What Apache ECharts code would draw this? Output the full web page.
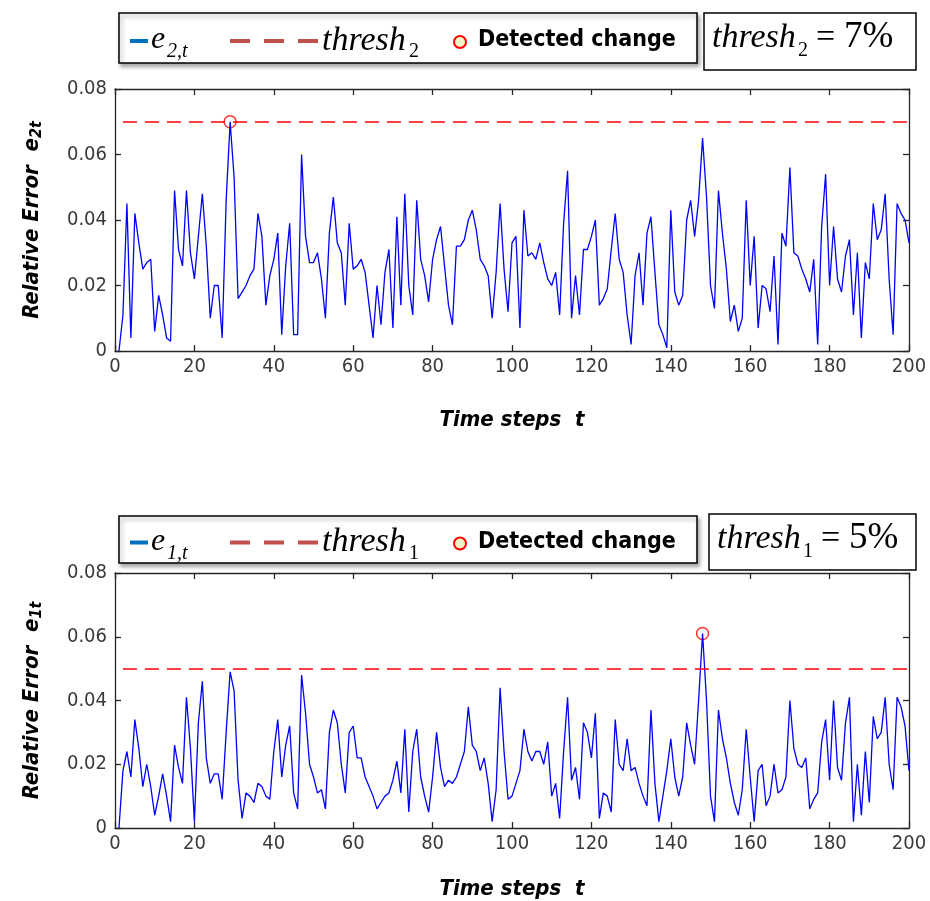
<!DOCTYPE html>
<html><head><meta charset="utf-8">
<script src="https://cdn.jsdelivr.net/npm/echarts@6/dist/echarts.min.js"></script>
<style>html,body{margin:0;padding:0;background:#fff}#c{width:930px;height:901px}</style>
</head><body><div id="c"></div>
<script>
// Relative error e_{2,t} (top panel), time steps 1..200
const e2 = [
0.000,0.011,0.045,0.004,0.042,0.033,0.025,0.027,0.028,0.006,
0.017,0.011,0.004,0.003,0.049,0.031,0.026,0.049,0.030,0.022,
0.035,0.048,0.032,0.010,0.020,0.020,0.004,0.046,0.070,0.053,
0.016,0.018,0.020,0.023,0.025,0.042,0.035,0.014,0.023,0.028,
0.036,0.005,0.026,0.039,0.005,0.005,0.060,0.035,0.027,0.027,
0.030,0.022,0.010,0.036,0.047,0.033,0.030,0.014,0.039,0.025,
0.026,0.028,0.024,0.014,0.004,0.020,0.008,0.024,0.031,0.007,
0.041,0.014,0.048,0.020,0.011,0.046,0.028,0.023,0.015,0.028,
0.034,0.038,0.026,0.014,0.008,0.032,0.032,0.034,0.040,0.043,
0.037,0.028,0.026,0.023,0.010,0.024,0.045,0.025,0.012,0.033,
0.035,0.007,0.043,0.029,0.030,0.028,0.033,0.027,0.022,0.020,
0.024,0.011,0.039,0.055,0.010,0.023,0.011,0.031,0.031,0.035,
0.040,0.014,0.016,0.019,0.031,0.042,0.028,0.024,0.011,0.002,
0.023,0.030,0.014,0.036,0.041,0.024,0.008,0.005,0.001,0.043,
0.018,0.014,0.017,0.040,0.046,0.035,0.046,0.065,0.047,0.020,
0.013,0.049,0.036,0.025,0.009,0.014,0.006,0.010,0.046,0.020,
0.035,0.007,0.020,0.019,0.012,0.029,0.002,0.036,0.032,0.056,
0.030,0.029,0.025,0.022,0.018,0.028,0.002,0.038,0.054,0.020,
0.038,0.022,0.018,0.029,0.034,0.011,0.030,0.004,0.027,0.022,
0.045,0.034,0.037,0.048,0.022,0.005,0.045,0.042,0.040,0.033];
// Relative error e_{1,t} (bottom panel)
const e1 = [
0.000,0.018,0.024,0.016,0.034,0.025,0.013,0.020,0.013,0.004,
0.010,0.017,0.010,0.002,0.026,0.019,0.014,0.041,0.025,0.002,
0.033,0.046,0.022,0.014,0.017,0.017,0.009,0.030,0.049,0.043,
0.015,0.003,0.011,0.010,0.008,0.014,0.013,0.010,0.009,0.024,
0.034,0.016,0.026,0.032,0.011,0.006,0.048,0.036,0.020,0.016,
0.011,0.012,0.006,0.030,0.037,0.033,0.020,0.011,0.030,0.032,
0.022,0.022,0.016,0.013,0.010,0.006,0.008,0.010,0.011,0.015,
0.021,0.011,0.031,0.005,0.024,0.031,0.016,0.010,0.005,0.016,
0.030,0.019,0.013,0.015,0.014,0.016,0.020,0.024,0.038,0.026,
0.024,0.018,0.022,0.014,0.002,0.012,0.044,0.024,0.009,0.010,
0.014,0.018,0.031,0.024,0.021,0.024,0.024,0.020,0.027,0.010,
0.014,0.003,0.024,0.041,0.015,0.019,0.009,0.033,0.030,0.022,
0.036,0.003,0.011,0.010,0.005,0.034,0.020,0.018,0.028,0.018,
0.019,0.014,0.010,0.007,0.037,0.014,0.002,0.010,0.018,0.028,
0.016,0.010,0.016,0.033,0.026,0.020,0.040,0.061,0.040,0.010,
0.002,0.037,0.028,0.022,0.014,0.008,0.004,0.012,0.031,0.016,
0.002,0.018,0.020,0.007,0.010,0.020,0.011,0.012,0.016,0.040,
0.025,0.020,0.019,0.022,0.006,0.009,0.011,0.027,0.034,0.015,
0.040,0.019,0.015,0.033,0.041,0.002,0.020,0.004,0.024,0.008,
0.035,0.028,0.030,0.041,0.020,0.012,0.041,0.038,0.032,0.018];
const thresh2 = 0.07;
const thresh1 = 0.05;
const detected2 = [[29, 0.070]];
const detected1 = [[148, 0.061]];
const xTicks = [0,20,40,60,80,100,120,140,160,180,200];
const yTicks = [0,0.02,0.04,0.06,0.08];

const chart = echarts.init(document.getElementById('c'), null, {renderer:'canvas'});
const pairs = a => a.map((v,i)=>[i+1, v]);
const narrow = "'Liberation Sans Narrow','DejaVu Sans Condensed','Liberation Sans',sans-serif";
const serif = "'Liberation Serif','DejaVu Serif',serif";
const axisCol = '#262626';

function xAx(gi, mirror, gap){
  return {type:'value', gridIndex:gi, min:0, max:200, interval:20,
    position: mirror?'top':'bottom',
    axisLine:{show:true, onZero:false, lineStyle:{color:axisCol, width:1.3}},
    axisTick:{show:true, inside:true, length:6, lineStyle:{color:axisCol, width:1.3}},
    splitLine:{show:false},
    axisLabel:{show:!mirror, color:'#3a3a3a', fontSize:20, fontFamily:narrow, margin:6},
    name: mirror?'':'Time steps  t', nameLocation:'middle', nameGap:gap||50,
    nameTextStyle:{fontSize:22, fontWeight:'bold', fontStyle:'italic', color:'#000', fontFamily:narrow}
  };
}
function yAx(gi, mirror, sub){
  return {type:'value', gridIndex:gi, min:0, max:0.08, interval:0.02,
    position: mirror?'right':'left',
    axisLine:{show:true, onZero:false, lineStyle:{color:axisCol, width:1.3}},
    axisTick:{show:true, inside:true, length:6, lineStyle:{color:axisCol, width:1.3}},
    splitLine:{show:false},
    axisLabel:{show:!mirror, color:'#3a3a3a', fontSize:20, fontFamily:narrow, margin:8,
      formatter: v => v===0 ? '0' : v.toFixed(2)},
    name: mirror?'':('{m|Relative Error  e}{s|'+sub+'}'), nameLocation:'middle', nameGap:70, nameRotate:90,
    nameTextStyle:{rich:{
      m:{fontSize:22, fontWeight:'bold', fontStyle:'italic', color:'#000', fontFamily:narrow},
      s:{fontSize:16, fontWeight:'bold', fontStyle:'italic', color:'#000', fontFamily:narrow, padding:[10,0,0,0]}
    }}
  };
}

function legendGroup(y0, h1, x2, y2, w2, h2, idx, pct){
  const els = [];
  els.push({type:'rect', shape:{x:119, y:y0, width:578, height:h1},
    style:{fill:'#fff', stroke:'#000', lineWidth:1.5, shadowBlur:4, shadowOffsetX:2, shadowOffsetY:3, shadowColor:'rgba(0,0,0,0.35)'}});
  const cy = y0 + h1/2 + 5;
  els.push({type:'line', shape:{x1:130, y1:cy-2, x2:148, y2:cy-2}, style:{stroke:'#0070c0', lineWidth:4}});
  els.push({type:'text', x:151, y:cy-19, style:{text:'e', font:"italic 32px "+serif, fill:'#000'}});
  els.push({type:'text', x:167, y:cy-1, style:{text:idx+',t', font:"italic 20px "+serif, fill:'#000'}});
  els.push({type:'line', shape:{x1:230, y1:cy-2, x2:322, y2:cy-2}, style:{stroke:'#c0504d', lineWidth:4, lineDash:[20,14]}});
  els.push({type:'text', x:322, y:cy-19, style:{text:'thresh', font:"italic 34px "+serif, fill:'#000'}});
  els.push({type:'text', x:409, y:cy-1, style:{text:idx, font:"20px "+serif, fill:'#000'}});
  els.push({type:'circle', shape:{cx:460, cy:cy-1, r:6}, style:{fill:'#eef6c8', stroke:'#ff0000', lineWidth:2}});
  els.push({type:'text', x:478, y:cy-14, style:{text:'Detected change', font:"bold 23px "+narrow, fill:'#000'}});
  els.push({type:'rect', shape:{x:x2, y:y2, width:w2, height:h2}, style:{fill:'#fff', stroke:'#000', lineWidth:1.5}});
  els.push({type:'text', x:x2+8, y:y2+8, style:{text:'thresh', font:"italic 34px "+serif, fill:'#000'}});
  els.push({type:'text', x:x2+94, y:y2+28, style:{text:idx, font:"20px "+serif, fill:'#000'}});
  els.push({type:'text', x:x2+112, y:y2+8, style:{text:'=', font:"34px "+serif, fill:'#000'}});
  els.push({type:'text', x:x2+140, y:y2+6, style:{text:pct, font:"37px "+serif, fill:'#000'}});
  return els;
}

const option = {
  backgroundColor:'#fff',
  animation:false,
  grid:[{left:115, top:89, width:794, height:262}, {left:115, top:573, width:794, height:262}],
  xAxis:[xAx(0,false,58), xAx(0,true), xAx(1,false,50), xAx(1,true)],
  yAxis:[yAx(0,false,'2t'), yAx(0,true,''), yAx(1,false,'1t'), yAx(1,true,'')],
  series:[
    {type:'line', xAxisIndex:0, yAxisIndex:0, data:pairs(e2), showSymbol:false, symbol:'none',
      lineStyle:{color:'#0000ff', width:1.3},
      markLine:{silent:true, symbol:'none', label:{show:false},
        lineStyle:{color:'#ff0000', type:[14,8], width:1.5},
        data:[[{coord:[2,thresh2]},{coord:[200,thresh2]}]]}},
    {type:'scatter', xAxisIndex:0, yAxisIndex:0, data:detected2, symbol:'circle', symbolSize:12,
      itemStyle:{color:'rgba(255,255,255,0)', borderColor:'#ff0000', borderWidth:1.5}},
    {type:'line', xAxisIndex:2, yAxisIndex:2, data:pairs(e1), showSymbol:false, symbol:'none',
      lineStyle:{color:'#0000ff', width:1.3},
      markLine:{silent:true, symbol:'none', label:{show:false},
        lineStyle:{color:'#ff0000', type:[14,8], width:1.5},
        data:[[{coord:[2,thresh1]},{coord:[200,thresh1]}]]}},
    {type:'scatter', xAxisIndex:2, yAxisIndex:2, data:detected1, symbol:'circle', symbolSize:12,
      itemStyle:{color:'rgba(255,255,255,0)', borderColor:'#ff0000', borderWidth:1.5}}
  ],
  graphic: [].concat(
    legendGroup(13, 50, 704, 13, 212, 57, '2', '7%'),
    legendGroup(516, 47, 709, 514, 207, 56, '1', '5%')
  )
};
chart.setOption(option);
</script></body></html>
